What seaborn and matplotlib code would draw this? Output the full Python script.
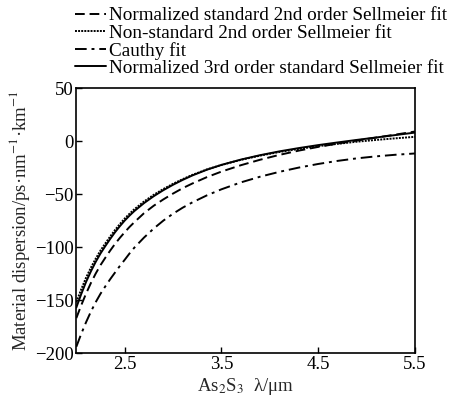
import matplotlib
matplotlib.use("Agg")
import matplotlib.pyplot as plt
import seaborn as sns
import pandas as pd

# wavelength (um) sample points
x_pts = [2.0, 2.05, 2.1, 2.15, 2.2, 2.25, 2.3, 2.35, 2.4, 2.45, 2.5, 2.55, 2.6, 2.7, 2.8, 2.9,
         3.0, 3.1, 3.2, 3.35, 3.5, 3.7, 3.9, 4.1, 4.3, 4.5, 4.7, 4.9, 5.1, 5.3, 5.5]

# Normalized 3rd order standard Sellmeier fit (solid)
y_solid = [-157, -144.5, -133, -123, -114, -106, -99, -92.3, -86, -80.3, -75, -70.3, -66, -58.5,
           -52, -46.3, -41.2, -36.6, -32.4, -27, -22.5, -17.5, -13.3, -9.7, -6.6, -3.8, -1.3,
           1.1, 3.4, 5.7, 8]
# Non-standard 2nd order Sellmeier fit (dotted)
y_dotted = [-152, -140, -129, -119.5, -111, -103.2, -96.5, -90, -83.9, -78.3, -73.1, -68.5, -64.3,
            -57, -50.7, -45.2, -40.3, -35.9, -31.9, -26.7, -22.5, -17.7, -13.7, -10.3, -7.4, -4.8,
            -2.6, -0.6, 1.1, 2.6, 4]
# Normalized standard 2nd order Sellmeier fit (dashed)
y_dashed = [-167, -155, -144, -134, -125, -117, -110, -103.3, -97, -91.3, -86, -81, -76.5, -68,
            -61, -55, -49.5, -44.4, -40, -34, -28.8, -22.8, -17.6, -13, -9, -5.5, -2.4, 0.5, 3.3,
            6.1, 9]
# Cauthy fit (dash-dot)
y_dashdot = [-194, -182, -171, -161, -152, -144, -137, -130.3, -124, -117.8, -112, -106, -100.5,
             -91, -82.5, -75, -68.5, -62.8, -57.8, -51.2, -45.5, -39, -33.6, -29, -25, -21.6,
             -18.7, -16.3, -14.4, -12.9, -11.7]

labels = ["Normalized standard 2nd order Sellmeier fit",
          "Non-standard 2nd order Sellmeier fit",
          "Cauthy fit",
          "Normalized 3rd order standard Sellmeier fit"]

x_ticks = [2.5, 3.5, 4.5, 5.5]
y_ticks = [-200, -150, -100, -50, 0, 50]

sns.set_theme(style="ticks")
plt.rcParams["font.family"] = ["Liberation Serif", "DejaVu Serif"]
plt.rcParams["mathtext.fontset"] = "stix"

fig = plt.figure(figsize=(4.49, 4.04), dpi=100)
ax = fig.add_axes([0.170, 0.126, 0.754, 0.656])

series = [
    (y_dashed, (0, (5, 2.5))),
    (y_dotted, (0, (1, 0.6))),
    (y_dashdot, (0, (6, 2.5, 1.5, 2.5))),
    (y_solid, "-"),
]
for (ys, ls), lab in zip(series, labels):
    df = pd.DataFrame({"x": x_pts, "y": ys})
    sns.lineplot(data=df, x="x", y="y", ax=ax, color="black", lw=1.4,
                 linestyle=ls, label=lab)

ax.set_xlim(2.0, 5.5)
ax.set_ylim(-200, 50)
ax.set_xticks(x_ticks)
ax.set_yticks(y_ticks)
ax.tick_params(direction="in", length=4, width=1, labelsize=13.5, colors="black", pad=2)
for s in ax.spines.values():
    s.set_linewidth(1.2)
    s.set_color("black")
ax.set_xlabel("As$_2$S$_3$  λ/μm", fontsize=13.5, labelpad=2)
ax.set_ylabel("Material dispersion/ps·nm$^{-1}$·km$^{-1}$", fontsize=13.5, labelpad=2)

leg = ax.legend(loc="upper left", bbox_to_anchor=(75 / 449, 1 - 7 / 404), bbox_transform=fig.transFigure,
                frameon=False, fontsize=13.8, handlelength=1.6, handletextpad=0.15,
                labelspacing=0.0, borderpad=0.0, borderaxespad=0.0)
for t in leg.get_texts():
    t.set_color("black")

fig.savefig("out.png", dpi=100)
